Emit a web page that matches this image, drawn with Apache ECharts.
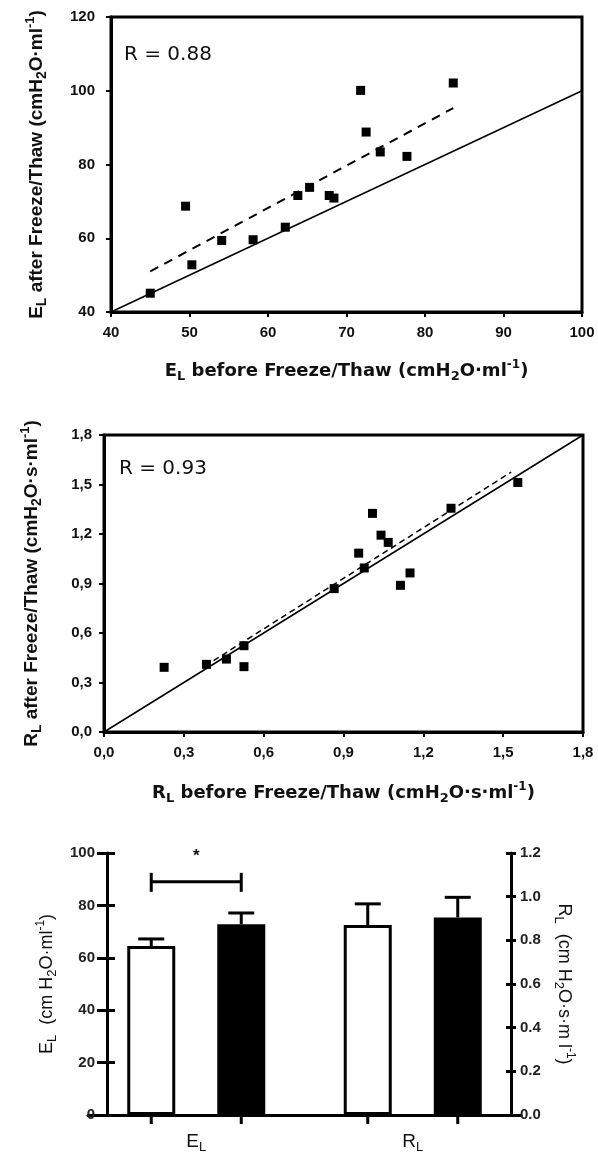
<!DOCTYPE html>
<html>
<head>
<meta charset="utf-8">
<script src="https://cdn.jsdelivr.net/npm/echarts@6/dist/echarts.min.js"></script>
<style>
html, body { margin: 0; padding: 0; background: #fff; }
#main { width: 598px; height: 1155px; }
</style>
</head>
<body>
<div id="main"></div>
<script>
// E_L before / after freeze-thaw (cmH2O/ml)
var elBefore = [45.0, 49.5, 50.3, 54.1, 58.1, 62.2, 63.8, 65.3, 67.8, 68.4, 71.8, 72.5, 74.3, 77.7, 83.6];
var elAfter = [45.1, 68.7, 52.8, 59.4, 59.6, 63.0, 71.6, 73.8, 71.6, 70.9, 100.1, 88.8, 83.4, 82.2, 102.1];
var elIdentity = [[40, 40], [100, 100]];
var elFit = [[45.0, 51.0], [83.6, 95.3]];

// R_L before / after freeze-thaw (cmH2O.s/ml)
var rlBefore = [0.226, 0.385, 0.46, 0.526, 0.526, 0.865, 0.957, 0.978, 1.009, 1.041, 1.068, 1.114, 1.15, 1.304, 1.555];
var rlAfter = [0.392, 0.41, 0.442, 0.523, 0.396, 0.869, 1.084, 0.994, 1.325, 1.193, 1.149, 0.889, 0.964, 1.356, 1.512];
var rlIdentity = [[0, 0], [1.8, 1.8]];
var rlFit = [[0.38, 0.40], [1.53, 1.575]];

// bar chart: [before, after]
var barCats = ['E_L', 'R_L'];
var elMean = [64.5, 72.8];
var elSem = [2.7, 4.3];
var rlMean = [0.87, 0.905];
var rlSem = [0.097, 0.092];
var sigLevel = 89;

var FONT = '"Liberation Sans", Arial, sans-serif';
var WIDE = '"DejaVu Sans", Verdana, sans-serif';
var INK = '#111';

function zip(a, b) {
    var out = [];
    for (var i = 0; i < a.length; i++) {
        out.push([a[i], b[i]]);
    }
    return out;
}

function commaLabel(v) {
    return v.toFixed(1).replace('.', ',');
}

// rich styles for names with sub/superscripts
function richStyles(size, weight, family) {
    family = family || FONT;
    return {
        b: { fontFamily: family, fontSize: size, fontWeight: weight, color: INK, lineHeight: size + 6 },
        s: { fontFamily: family, fontSize: Math.round(size * 0.72), fontWeight: weight, color: INK, verticalAlign: 'bottom', lineHeight: Math.round(size * 0.8) },
        p: { fontFamily: family, fontSize: Math.round(size * 0.68), fontWeight: weight, color: INK, verticalAlign: 'top', lineHeight: Math.round(size * 0.7) }
    };
}

function boldLabel(extra) {
    return Object.assign({ fontFamily: FONT, fontWeight: 'bold', fontSize: 15, color: INK }, extra);
}
var thickLine = { color: '#000', width: 3 };

function scatterAxis(grid, min, max, interval, fmt, name, gap, margin, rich) {
    return {
        gridIndex: grid, type: 'value', min: min, max: max, interval: interval,
        axisLine: { onZero: false, lineStyle: thickLine },
        axisTick: { length: 5, lineStyle: { color: '#000', width: 2 } },
        axisLabel: boldLabel({ margin: margin, formatter: fmt }),
        splitLine: { show: false },
        name: name, nameLocation: 'middle', nameGap: gap,
        nameTextStyle: { fontFamily: rich.b.fontFamily, fontWeight: 'bold', rich: rich }
    };
}

var BAR_SHIFT = 45; // half distance between before/after bar centres

function errorSeries(yIdx, cat, mean, sem, side) {
    return {
        type: 'custom', xAxisIndex: 2, yAxisIndex: yIdx, z: 5, clip: false,
        data: [[cat, mean, mean + sem]],
        renderItem: function (params, api) {
            var base = api.coord([api.value(0), api.value(1)]);
            var top = api.coord([api.value(0), api.value(2)]);
            var zero = api.coord([api.value(0), 0]);
            var x = base[0] + side * BAR_SHIFT;
            var st = { stroke: '#000', lineWidth: 3 };
            return {
                type: 'group',
                children: [
                    { type: 'line', shape: { x1: x, y1: base[1], x2: x, y2: top[1] }, style: st },
                    { type: 'line', shape: { x1: x - 13, y1: top[1], x2: x + 13, y2: top[1] }, style: st },
                    { type: 'line', shape: { x1: x, y1: zero[1], x2: x, y2: zero[1] + 9 }, style: st }
                ]
            };
        }
    };
}

var chart = echarts.init(document.getElementById('main'), null, { renderer: 'canvas' });

var xTitleRich = richStyles(18, 'bold', WIDE);
var yTitleRich = richStyles(19, 'bold');

var option = {
    animation: false,
    backgroundColor: '#fff',
    textStyle: { fontFamily: FONT },
    title: [
        { text: 'R = 0.88', left: 124, top: 45, padding: 0, textStyle: { fontFamily: WIDE, fontSize: 20, fontWeight: 'normal', color: INK } },
        { text: 'R = 0.93', left: 119, top: 459, padding: 0, textStyle: { fontFamily: WIDE, fontSize: 20, fontWeight: 'normal', color: INK } }
    ],
    grid: [
        { left: 111, top: 17, width: 471, height: 295, show: true, borderColor: '#000', borderWidth: 3 },
        { left: 104, top: 435, width: 479, height: 297, show: true, borderColor: '#000', borderWidth: 3 },
        { left: 88, top: 853, width: 433, height: 262 }
    ],
    xAxis: [
        scatterAxis(0, 40, 100, 10, null,
            '{b|E}{s|L}{b| before Freeze/Thaw (cmH}{s|2}{b|O·ml}{p|-1}{b|)}', 47, 13, xTitleRich),
        scatterAxis(1, 0, 1.8, 0.3, commaLabel,
            '{b|R}{s|L}{b| before Freeze/Thaw (cmH}{s|2}{b|O·s·ml}{p|-1}{b|)}', 49, 13, xTitleRich),
        {
            gridIndex: 2, type: 'category', data: barCats,
            axisLine: { onZero: false, lineStyle: thickLine },
            axisTick: { show: false },
            axisLabel: {
                margin: 15,
                fontFamily: FONT,
                formatter: function (v) {
                    var p = v.split('_');
                    return '{m|' + p[0] + '}{s|' + p[1] + '}';
                },
                rich: {
                    m: { fontFamily: FONT, fontSize: 19, color: INK, lineHeight: 24 },
                    s: { fontFamily: FONT, fontSize: 13, color: INK, verticalAlign: 'bottom', lineHeight: 15 }
                }
            }
        }
    ],
    yAxis: [
        scatterAxis(0, 40, 120, 20, null,
            '{b|E}{s|L}{b| after Freeze/Thaw (cmH}{s|2}{b|O·ml}{p|-1}{b|)}', 62, 16, yTitleRich),
        scatterAxis(1, 0, 1.8, 0.3, commaLabel,
            '{b|R}{s|L}{b| after Freeze/Thaw (cmH}{s|2}{b|O·s·ml}{p|-1}{b|)}', 60, 12, yTitleRich),
        {
            gridIndex: 2, type: 'value', position: 'left', offset: -19,
            min: 0, max: 100, interval: 20,
            axisLine: { show: true, lineStyle: thickLine },
            axisTick: { show: true, length: 10, lineStyle: { color: '#000', width: 3 } },
            axisLabel: boldLabel({ margin: 12, color: '#222' }),
            splitLine: { show: false },
            name: '{b|E}{s|L}{b|  (cm H}{s|2}{b|O·ml}{p|-1}{b|)}', nameLocation: 'middle', nameGap: 44,
            nameTextStyle: { fontFamily: FONT, rich: richStyles(18, 'normal') }
        },
        {
            gridIndex: 2, type: 'value', position: 'right', offset: -10,
            min: 0, max: 1.2, interval: 0.2,
            axisLine: { show: true, lineStyle: thickLine },
            axisTick: { show: true, length: 5, lineStyle: { color: '#000', width: 3 } },
            axisLabel: boldLabel({ margin: 9, color: '#222', formatter: function (v) { return v.toFixed(1); } }),
            splitLine: { show: false },
            name: '{b|R}{s|L}{b|  (cm H}{s|2}{b|O·s·m l}{p|-1}{b|)}', nameLocation: 'middle', nameGap: 41, nameRotate: -90,
            nameTextStyle: { fontFamily: FONT, rich: richStyles(18, 'normal') }
        },
        {
            gridIndex: 2, type: 'value', position: 'left', offset: -19,
            min: 0, max: 100, interval: 20,
            axisLine: { show: false },
            axisTick: { show: true, inside: true, length: 8, lineStyle: { color: '#000', width: 3 } },
            axisLabel: { show: false }, splitLine: { show: false }
        },
        {
            gridIndex: 2, type: 'value', position: 'right', offset: -10,
            min: 0, max: 1.2, interval: 0.2,
            axisLine: { show: false },
            axisTick: { show: true, inside: true, length: 5, lineStyle: { color: '#000', width: 3 } },
            axisLabel: { show: false }, splitLine: { show: false }
        }
    ],
    series: [
        // E_L scatter
        { type: 'line', xAxisIndex: 0, yAxisIndex: 0, data: elIdentity, symbol: 'none', lineStyle: { color: '#000', width: 1.5 }, z: 2 },
        { type: 'line', xAxisIndex: 0, yAxisIndex: 0, data: elFit, symbol: 'none', lineStyle: { color: '#000', width: 2, type: [9, 7] }, z: 2 },
        { type: 'scatter', xAxisIndex: 0, yAxisIndex: 0, data: zip(elBefore, elAfter), symbol: 'rect', symbolSize: 9, itemStyle: { color: '#000', opacity: 1 }, z: 3 },
        // R_L scatter
        { type: 'line', xAxisIndex: 1, yAxisIndex: 1, data: rlIdentity, symbol: 'none', lineStyle: { color: '#000', width: 1.5 }, z: 2 },
        { type: 'line', xAxisIndex: 1, yAxisIndex: 1, data: rlFit, symbol: 'none', lineStyle: { color: '#000', width: 1.5, type: [6, 4] }, z: 2 },
        { type: 'scatter', xAxisIndex: 1, yAxisIndex: 1, data: zip(rlBefore, rlAfter), symbol: 'rect', symbolSize: 9, itemStyle: { color: '#000', opacity: 1 }, z: 3 },
        // bars
        { type: 'bar', xAxisIndex: 2, yAxisIndex: 2, stack: 'before', data: [elMean[0], '-'], barWidth: 48, barGap: '87.5%',
          itemStyle: { color: '#fff', borderColor: '#000', borderWidth: 3 } },
        { type: 'bar', xAxisIndex: 2, yAxisIndex: 2, stack: 'after', data: [elMean[1], '-'], barWidth: 48, barGap: '87.5%',
          itemStyle: { color: '#000' } },
        { type: 'bar', xAxisIndex: 2, yAxisIndex: 3, stack: 'before', data: ['-', rlMean[0]], barWidth: 48, barGap: '87.5%',
          itemStyle: { color: '#fff', borderColor: '#000', borderWidth: 3 } },
        { type: 'bar', xAxisIndex: 2, yAxisIndex: 3, stack: 'after', data: ['-', rlMean[1]], barWidth: 48, barGap: '87.5%',
          itemStyle: { color: '#000' } },
        errorSeries(2, 0, elMean[0], elSem[0], -1),
        errorSeries(2, 0, elMean[1], elSem[1], 1),
        errorSeries(3, 1, rlMean[0], rlSem[0], -1),
        errorSeries(3, 1, rlMean[1], rlSem[1], 1),
        // significance bracket
        {
            type: 'custom', xAxisIndex: 2, yAxisIndex: 2, z: 5, clip: false,
            data: [[0, sigLevel]],
            renderItem: function (params, api) {
                var c = api.coord([api.value(0), api.value(1)]);
                var x1 = c[0] - BAR_SHIFT, x2 = c[0] + BAR_SHIFT, y = c[1];
                var st = { stroke: '#000', lineWidth: 3 };
                return {
                    type: 'group',
                    children: [
                        { type: 'line', shape: { x1: x1, y1: y, x2: x2, y2: y }, style: st },
                        { type: 'line', shape: { x1: x1, y1: y - 9, x2: x1, y2: y + 10 }, style: st },
                        { type: 'line', shape: { x1: x2, y1: y - 9, x2: x2, y2: y + 10 }, style: st },
                        { type: 'text', style: { text: '*', x: c[0], y: y - 26, align: 'center', verticalAlign: 'middle',
                            font: 'bold 17px ' + FONT, fill: INK } }
                    ]
                };
            }
        }
    ]
};

chart.setOption(option);
</script>
</body>
</html>
